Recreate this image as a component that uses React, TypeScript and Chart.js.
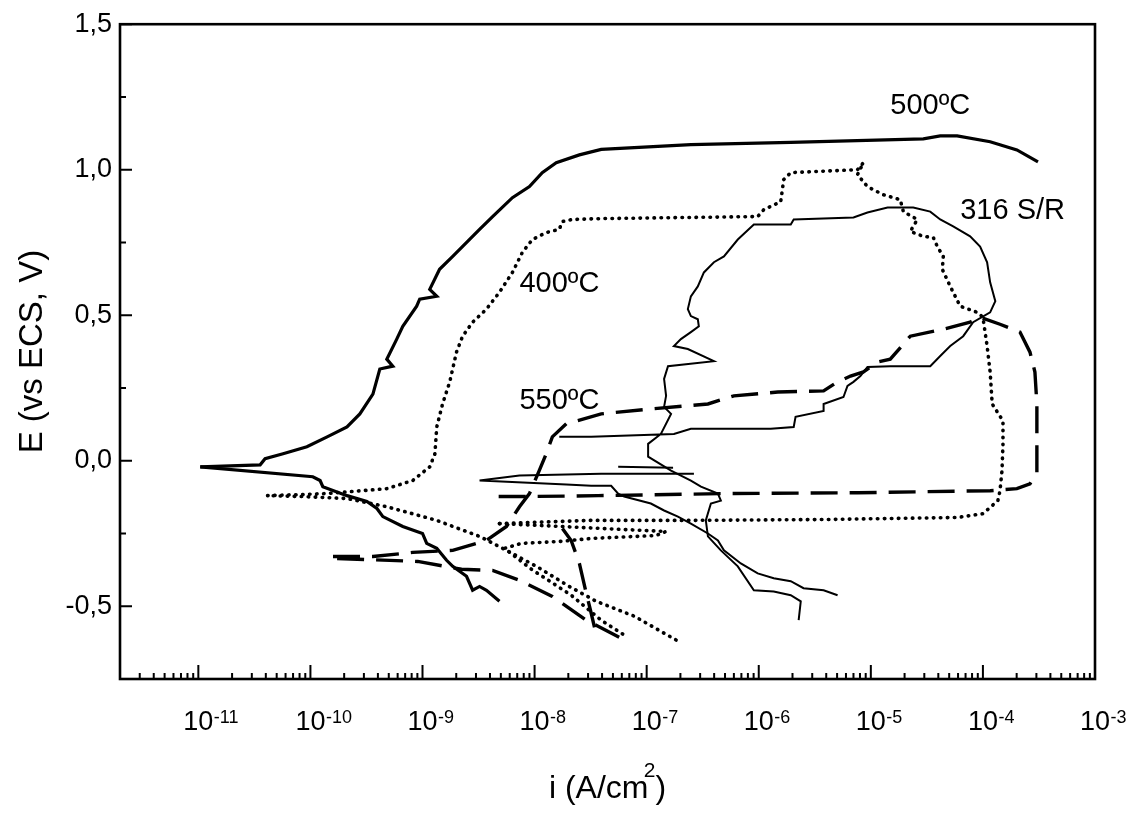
import React, { useEffect, useRef } from 'react';
import { Chart, registerables } from 'chart.js';

Chart.register(...registerables);

const FONT = "'Liberation Sans', Arial, Helvetica, sans-serif";

// Each point: [i (A/cm2), E (V vs ECS)]
const curve500Anodic: [number, number][] = [
  [1.04e-11, -0.021], [3.56e-11, -0.014], [3.94e-11, 0.007], [5.7e-11, 0.024], [9.3e-11, 0.048],
  [1.41e-10, 0.082], [2.12e-10, 0.116], [2.76e-10, 0.161], [3.61e-10, 0.229], [4.16e-10, 0.315],
  [5.43e-10, 0.325], [4.8e-10, 0.349], [5.89e-10, 0.418], [6.67e-10, 0.462], [8.87e-10, 0.531],
  [9.44e-10, 0.555], [1.34e-9, 0.565], [1.16e-9, 0.589], [1.42e-9, 0.658], [1.86e-9, 0.702],
  [3.23e-9, 0.795], [4.22e-9, 0.839], [6.34e-9, 0.904], [9.0e-9, 0.942], [1.17e-8, 0.99],
  [1.56e-8, 1.024], [2.51e-8, 1.051], [3.93e-8, 1.07], [2.48e-7, 1.086], [1.93e-6, 1.094],
  [2.94e-5, 1.106], [4.16e-5, 1.116], [5.89e-5, 1.116], [1.16e-4, 1.096], [2.01e-4, 1.068],
  [3.1e-4, 1.027],
];
const curve500Cathodic: [number, number][] = [
  [1.04e-11, -0.021], [1.05e-10, -0.055], [1.22e-10, -0.068], [1.29e-10, -0.089], [2.12e-10, -0.12],
  [3.19e-10, -0.14], [3.92e-10, -0.164], [4.43e-10, -0.192], [6.67e-10, -0.226], [1.0e-9, -0.25],
  [1.09e-9, -0.284], [1.34e-9, -0.301], [1.64e-9, -0.342], [1.86e-9, -0.363], [2.47e-9, -0.397],
  [2.8e-9, -0.445], [3.23e-9, -0.432], [3.72e-9, -0.445], [4.86e-9, -0.483],
];
const curve400Main: [number, number][] = [
  [1.83e-7, -0.616], [7.73e-8, -0.534], [3.55e-8, -0.483], [2.04e-8, -0.432], [1.04e-8, -0.363],
  [5.61e-9, -0.308], [3.23e-9, -0.26], [1.34e-9, -0.205], [4.8e-10, -0.158], [2.12e-10, -0.13],
  [8.41e-11, -0.123], [4.11e-11, -0.12], [8.41e-11, -0.116], [1.35e-10, -0.113], [4.8e-10, -0.096],
  [8.18e-10, -0.068], [1.16e-9, -0.021], [1.29e-9, 0.024], [1.34e-9, 0.116], [1.51e-9, 0.195],
  [1.75e-9, 0.271], [2.01e-9, 0.373], [2.28e-9, 0.428], [2.8e-9, 0.476], [3.72e-9, 0.521],
  [4.86e-9, 0.579], [6.34e-9, 0.647], [7.78e-9, 0.716], [9.55e-9, 0.76], [1.27e-8, 0.784],
  [1.66e-8, 0.795], [1.77e-8, 0.822], [2.17e-8, 0.829], [3.93e-8, 0.832], [9.79e-7, 0.839],
  [1.11e-6, 0.863], [1.57e-6, 0.89], [1.67e-6, 0.966], [1.93e-6, 0.99], [7.6e-6, 1.0],
  [8.59e-6, 1.024], [7.6e-6, 0.983], [9.33e-6, 0.942], [1.29e-5, 0.914], [1.83e-5, 0.897],
  [1.95e-5, 0.856], [2.6e-5, 0.829], [2.25e-5, 0.788], [2.94e-5, 0.771], [3.61e-5, 0.767],
  [3.92e-5, 0.736], [4.43e-5, 0.702], [4.34e-5, 0.658], [5.11e-5, 0.599], [6.27e-5, 0.531],
  [8.87e-5, 0.51], [1.0e-4, 0.493], [1.09e-4, 0.394], [1.16e-4, 0.305], [1.21e-4, 0.195],
  [1.51e-4, 0.137], [1.51e-4, 0.058], [1.48e-4, -0.034], [1.42e-4, -0.103], [1.36e-4, -0.137],
  [1.0e-4, -0.182], [5.89e-5, -0.195], [3.79e-6, -0.202], [2.48e-7, -0.205], [3.2e-8, -0.205],
  [4.86e-9, -0.216],
];
const curve400Reverse: [number, number][] = [
  [4.86e-9, -0.216], [1.73e-8, -0.226], [5.92e-8, -0.236], [1.49e-7, -0.243], [1.21e-7, -0.257],
  [3.2e-8, -0.267], [1.73e-8, -0.277], [7.64e-9, -0.284], [5.38e-9, -0.301], [9.38e-9, -0.373],
  [2.12e-8, -0.462], [3.93e-8, -0.548], [6.3e-8, -0.599],
];
const curve550Loop: [number, number][] = [
  [1.59e-10, -0.329], [3.61e-10, -0.329], [8.18e-10, -0.315], [1.86e-9, -0.308], [3.72e-9, -0.274],
  [5.61e-9, -0.226], [7.33e-9, -0.158], [9.0e-9, -0.113], [1.1e-8, -0.034], [1.27e-8, 0.024],
  [1.44e-8, 0.082], [1.92e-8, 0.127], [3.93e-8, 0.161], [1.09e-7, 0.178], [3.52e-7, 0.195],
  [6.0e-7, 0.223], [1.48e-6, 0.236], [3.79e-6, 0.24], [5.05e-6, 0.271], [6.59e-6, 0.291],
  [8.59e-6, 0.305], [1.15e-5, 0.339], [1.49e-5, 0.349], [2.25e-5, 0.428], [4.43e-5, 0.452],
  [7.69e-5, 0.476], [9.44e-5, 0.493], [1.42e-4, 0.469], [2.14e-4, 0.442], [2.63e-4, 0.373],
  [2.91e-4, 0.305], [3.03e-4, 0.195], [3.03e-4, -0.045], [2.63e-4, -0.079], [2.01e-4, -0.096],
  [1.16e-4, -0.103], [7.6e-6, -0.11], [4.89e-7, -0.113], [3.7e-8, -0.12], [9.0e-9, -0.123],
  [4.22e-9, -0.123],
];
const curve550Cathodic: [number, number][] = [
  [1.73e-10, -0.336], [9.06e-10, -0.346], [2.23e-9, -0.373], [4.22e-9, -0.377], [7.33e-9, -0.411],
  [1.44e-8, -0.466], [2.89e-8, -0.548], [5.92e-8, -0.61],
];
const curve550Drop: [number, number][] = [
  [1.77e-8, -0.233], [2.12e-8, -0.274], [2.51e-8, -0.353], [2.89e-8, -0.455], [3.2e-8, -0.524],
  [3.55e-8, -0.599],
];
const curve316Loop: [number, number][] = [
  [2.27e-6, -0.548], [2.37e-6, -0.483], [1.93e-6, -0.462], [1.36e-6, -0.449], [9.04e-7, -0.445],
  [6.5e-7, -0.363], [4.59e-7, -0.308], [3.52e-7, -0.26], [3.37e-7, -0.205], [3.74e-7, -0.147],
  [4.59e-7, -0.137], [4.32e-7, -0.113], [3.05e-7, -0.089], [2.48e-7, -0.068], [1.65e-7, -0.034],
  [1.03e-7, 0.014], [1.03e-7, 0.058], [1.34e-7, 0.092], [1.65e-7, 0.161], [1.43e-7, 0.185],
  [1.49e-7, 0.223], [1.43e-7, 0.281], [1.55e-7, 0.325], [3.98e-7, 0.342], [2.33e-7, 0.384],
  [1.75e-7, 0.394], [2.02e-7, 0.418], [2.48e-7, 0.442], [2.92e-7, 0.462], [2.86e-7, 0.486],
  [2.48e-7, 0.497], [2.33e-7, 0.521], [2.48e-7, 0.565], [2.86e-7, 0.599], [3.24e-7, 0.647],
  [3.98e-7, 0.682], [4.89e-7, 0.702], [6.5e-7, 0.76], [9.04e-7, 0.812], [1.93e-6, 0.812],
  [2.05e-6, 0.829], [7.0e-6, 0.836], [9.33e-6, 0.853], [1.41e-5, 0.87], [2.39e-5, 0.87],
  [3.39e-5, 0.856], [4.16e-5, 0.829], [5.43e-5, 0.805], [7.69e-5, 0.771], [9.44e-5, 0.736],
  [1.09e-4, 0.682], [1.16e-4, 0.613], [1.29e-4, 0.548], [1.16e-4, 0.51], [8.18e-5, 0.476],
  [6.67e-5, 0.428], [5.11e-5, 0.394], [4.16e-5, 0.36], [3.39e-5, 0.325], [1.49e-5, 0.325],
  [9.33e-6, 0.322], [8.07e-6, 0.291], [7.0e-6, 0.271], [6.19e-6, 0.257], [5.7e-6, 0.219],
  [3.79e-6, 0.195], [3.79e-6, 0.171], [2.13e-6, 0.151], [2.05e-6, 0.116], [1.28e-6, 0.11],
  [2.48e-7, 0.11], [1.75e-7, 0.092], [3.2e-8, 0.082], [1.66e-8, 0.082],
];
const curve316Cathodic: [number, number][] = [
  [5.05e-6, -0.462], [3.79e-6, -0.445], [2.51e-6, -0.438], [1.93e-6, -0.414], [1.36e-6, -0.404],
  [9.79e-7, -0.387], [6.92e-7, -0.353], [4.89e-7, -0.308], [4.32e-7, -0.274], [3.52e-7, -0.25],
  [2.48e-7, -0.216], [1.9e-7, -0.192], [1.43e-7, -0.171], [1.09e-7, -0.147], [6.3e-8, -0.123],
  [5.57e-8, -0.113], [4.82e-8, -0.086], [3.2e-8, -0.086], [1.92e-8, -0.082], [3.23e-9, -0.068],
  [7.33e-9, -0.051], [3.93e-8, -0.045], [2.64e-7, -0.045],
];
const curve316Step: [number, number][] = [
  [5.57e-8, -0.021], [1.72e-7, -0.024],
];

const xMin = 2e-12;
const xMax = 1e-3;
const yMin = -0.75;
const yMax = 1.5;
const xDecadeExponents = [-11, -10, -9, -8, -7, -6, -5, -4, -3];
const xMinorDecades = [-12, -11, -10, -9, -8, -7, -6, -5, -4];
const xMinorMultipliers = [2, 3, 4, 5, 6, 7, 8, 9];
const yTickValues = [-0.5, 0, 0.5, 1.0, 1.5];
const yTickLabels = ['-0,5', '0,0', '0,5', '1,0', '1,5'];
const yMinorValues = [-0.75, -0.25, 0.25, 0.75, 1.25];
const curveLabels = [
  { text: '500ºC', i: 1.49e-5, E: 1.19 },
  { text: '316 S/R', i: 6.27e-5, E: 0.829 },
  { text: '400ºC', i: 7.33e-9, E: 0.579 },
  { text: '550ºC', i: 7.33e-9, E: 0.178 },
];
const xTitleMain = 'i (A/cm';
const xTitleSup = '2';
const xTitleEnd = ')';

const toXY = (arr: [number, number][]) => arr.map(([x, y]) => ({ x, y }));

const base = { borderColor: '#000', pointRadius: 0, showLine: true, fill: false, tension: 0 };
const solidThick = { ...base, borderWidth: 3.2 };
const solidThin = { ...base, borderWidth: 2 };
const dotted = { ...base, borderWidth: 3.6, borderDash: [0.5, 6.5], borderCapStyle: 'round' };
const dashed = { ...base, borderWidth: 3.4, borderDash: [27, 12], borderCapStyle: 'butt' };

const framePlugin = {
  id: 'frameTicksLabels',
  afterDraw(chart: any) {
    const { ctx, chartArea: a, scales } = chart;
    const xs = scales.x;
    const ys = scales.y;
    ctx.save();
    ctx.strokeStyle = '#000';
    ctx.fillStyle = '#000';
    ctx.lineWidth = 2.6;
    ctx.strokeRect(a.left, a.top, a.right - a.left, a.bottom - a.top);

    // x ticks (inward)
    ctx.lineWidth = 2;
    ctx.beginPath();
    for (const e of xMinorDecades) {
      for (const m of xMinorMultipliers) {
        const v = m * Math.pow(10, e);
        if (v <= xMin || v >= xMax) continue;
        const px = xs.getPixelForValue(v);
        ctx.moveTo(px, a.bottom);
        ctx.lineTo(px, a.bottom - 6);
      }
    }
    for (const e of xDecadeExponents) {
      const px = xs.getPixelForValue(Math.pow(10, e));
      ctx.moveTo(px, a.bottom);
      ctx.lineTo(px, a.bottom - 14);
    }
    ctx.stroke();

    // y ticks (inward)
    ctx.beginPath();
    for (const v of yTickValues) {
      const py = ys.getPixelForValue(v);
      ctx.moveTo(a.left, py);
      ctx.lineTo(a.left + 12, py);
    }
    for (const v of yMinorValues) {
      const py = ys.getPixelForValue(v);
      ctx.moveTo(a.left, py);
      ctx.lineTo(a.left + 6, py);
    }
    ctx.stroke();

    // x tick labels: 10 with exponent
    ctx.textBaseline = 'alphabetic';
    for (const e of xDecadeExponents) {
      const px = xs.getPixelForValue(Math.pow(10, e));
      ctx.font = `27px ${FONT}`;
      ctx.textAlign = 'center';
      const w = ctx.measureText('10').width;
      ctx.fillText('10', px, a.bottom + 51);
      ctx.font = `18px ${FONT}`;
      ctx.textAlign = 'left';
      ctx.fillText(String(e), px + w / 2 + 0.5, a.bottom + 44);
    }

    // x axis title with superscript
    {
      ctx.font = `32px ${FONT}`;
      const wMain = ctx.measureText(xTitleMain).width;
      const wEnd = ctx.measureText(xTitleEnd).width;
      ctx.font = `21px ${FONT}`;
      const wSup = ctx.measureText(xTitleSup).width;
      const total = wMain + wSup * 0.6 + wEnd;
      const cx = (a.left + a.right) / 2;
      let x0 = cx - total / 2;
      const yb = a.bottom + 119;
      ctx.textAlign = 'left';
      ctx.font = `32px ${FONT}`;
      ctx.fillText(xTitleMain, x0, yb);
      ctx.font = `21px ${FONT}`;
      ctx.fillText(xTitleSup, x0 + wMain - wSup * 0.4, yb - 21);
      ctx.font = `32px ${FONT}`;
      ctx.fillText(xTitleEnd, x0 + wMain + wSup * 0.6, yb);
    }

    // curve labels
    ctx.font = `29px ${FONT}`;
    ctx.textAlign = 'left';
    for (const l of curveLabels) {
      ctx.fillText(l.text, xs.getPixelForValue(l.i), ys.getPixelForValue(l.E));
    }
    ctx.restore();
  },
};

export default function App() {
  const canvasRef = useRef<HTMLCanvasElement | null>(null);

  useEffect(() => {
    if (!canvasRef.current) return;
    const chart = new Chart(canvasRef.current, {
      type: 'scatter',
      data: {
        datasets: [
          { label: '500ºC', data: toXY(curve500Anodic), ...solidThick },
          { label: '500ºC cathodic', data: toXY(curve500Cathodic), ...solidThick },
          { label: '400ºC', data: toXY(curve400Main), ...dotted },
          { label: '400ºC reverse', data: toXY(curve400Reverse), ...dotted },
          { label: '550ºC', data: toXY(curve550Loop), ...dashed },
          { label: '550ºC cathodic', data: toXY(curve550Cathodic), ...dashed },
          { label: '550ºC drop', data: toXY(curve550Drop), ...dashed },
          { label: '316 S/R', data: toXY(curve316Loop), ...solidThin },
          { label: '316 S/R cathodic', data: toXY(curve316Cathodic), ...solidThin },
          { label: '316 S/R step', data: toXY(curve316Step), ...solidThin },
        ] as any,
      },
      options: {
        responsive: false,
        animation: false,
        layout: { padding: { left: 0, right: 37, top: 21, bottom: 0 } },
        plugins: { legend: { display: false }, tooltip: { enabled: false } },
        scales: {
          x: {
            type: 'logarithmic',
            min: xMin,
            max: xMax,
            grid: { display: false, drawTicks: false },
            border: { display: false },
            ticks: { display: false },
            title: { display: false },
            afterFit: (s: any) => { s.height = 135; },
          },
          y: {
            type: 'linear',
            min: yMin,
            max: yMax,
            grid: { display: false, drawTicks: false },
            border: { display: false },
            ticks: {
              stepSize: 0.25,
              autoSkip: false,
              padding: 8,
              color: '#000',
              font: { family: FONT, size: 27 },
              callback: (value: any) => {
                const k = yTickValues.findIndex((t) => Math.abs(t - Number(value)) < 1e-9);
                return k >= 0 ? yTickLabels[k] : '';
              },
            },
            title: {
              display: true,
              text: 'E (vs ECS, V)',
              color: '#000',
              font: { family: FONT, size: 33 },
              padding: { top: 13, bottom: 0 },
            },
            afterFit: (s: any) => { s.width = 120; },
          },
        },
      } as any,
      plugins: [framePlugin],
    });
    return () => chart.destroy();
  }, []);

  return (
    <div style={{ position: 'absolute', left: 0, top: 0, width: 1132, height: 814, background: '#fff' }}>
      <canvas ref={canvasRef} width={1132} height={814} style={{ display: 'block' }} />
    </div>
  );
}
